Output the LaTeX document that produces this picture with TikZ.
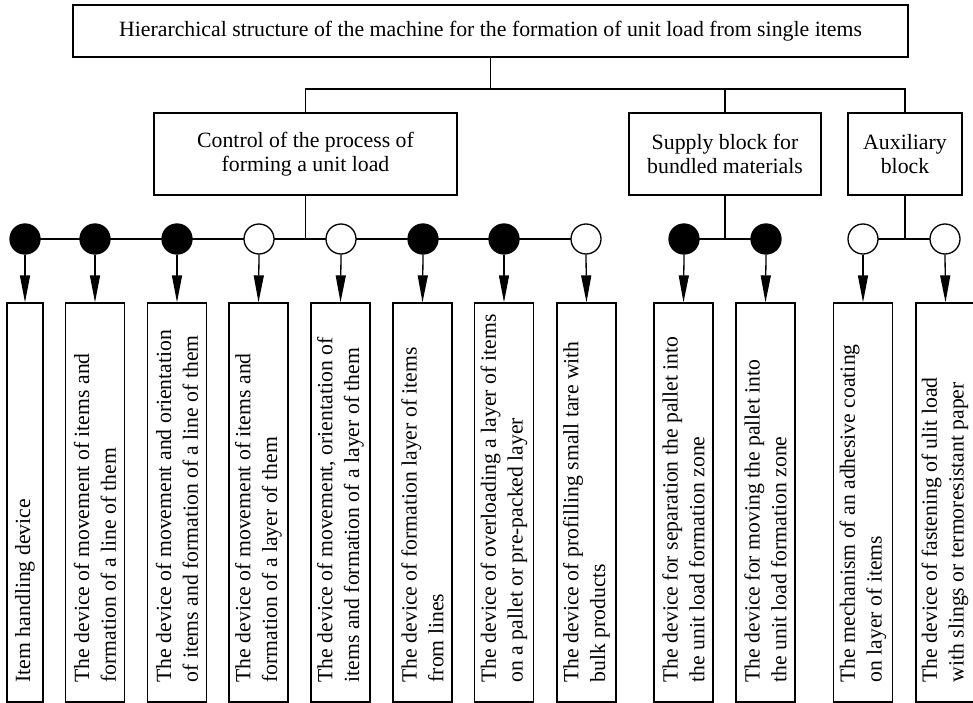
\documentclass[tikz,border=0pt]{standalone}
\usepackage{fontspec}
\setmainfont{Liberation Serif}
\usetikzlibrary{arrows.meta}
\begin{document}
\begin{tikzpicture}[x=1pt,y=-1pt,
  line width=1.3pt,
  topbox/.style={draw,rectangle,inner sep=0pt,align=center,font=\fontsize{21.8}{23.5}\selectfont},
  leafbox/.style={draw,rectangle,inner sep=0pt,minimum width=59pt,minimum height=399pt},
  leaftext/.style={rotate=90,anchor=west,inner sep=0pt,align=left,font=\fontsize{21.7}{26.7}\selectfont},
  dotb/.style={circle,draw,fill=black,minimum size=30pt,inner sep=0pt},
  dotw/.style={circle,draw,fill=white,minimum size=30pt,inner sep=0pt},
  arr/.style={-{Triangle[length=27pt,width=10pt]}}
]
\useasboundingbox (0,0) rectangle (973,703);
% top level
\node[topbox,minimum width=835pt,minimum height=52pt] (top) at (490.5,31)
  {Hierarchical structure of the machine for the formation of unit load from single items};
\node[topbox,minimum width=303pt,minimum height=82pt] (ctrl) at (305.5,154)
  {Control of the process of\\forming a unit load};
\node[topbox,minimum width=192pt,minimum height=82pt] (sup) at (725,154)
  {Supply block for\\bundled materials};
\node[topbox,minimum width=114pt,minimum height=82pt] (aux) at (905,154)
  {Auxiliary\\block};
\coordinate (bus) at (490.5,89);
\draw (top.south) -- (bus);
\draw (ctrl.north) |- (bus) -| (aux.north);
\draw (sup.north) -- (sup.north |- bus);

% circle rows
\coordinate (r) at (0,239);
\draw (25,239) coordinate (a1) -- (586,239) coordinate (a8);
\draw (ctrl.south) -- (ctrl.south |- r);
\draw (684,239) coordinate (s1) -- (766,239) coordinate (s2);
\draw (sup.south) -- (sup.south |- r);
\draw (863,239) coordinate (x1) -- (945,239) coordinate (x2);
\draw (aux.south) -- (aux.south |- r);

\node[dotb] (c1) at (25,239) {};
\node[dotb] (c2) at (95,239) {};
\node[dotb] (c3) at (177,239) {};
\node[dotw] (c4) at (259,239) {};
\node[dotw] (c5) at (341,239) {};
\node[dotb] (c6) at (423,239) {};
\node[dotb] (c7) at (504,239) {};
\node[dotw] (c8) at (586,239) {};
\node[dotb] (c9) at (684,239) {};
\node[dotb] (c10) at (766,239) {};
\node[dotw] (c11) at (863,239) {};
\node[dotw] (c12) at (945,239) {};

% leaf boxes
\node[leafbox,minimum width=36pt] (b1) at (25,502.5) {};
\node[leafbox] (b2) at (95,502.5) {};
\node[leafbox] (b3) at (177,502.5) {};
\node[leafbox] (b4) at (258.5,502.5) {};
\node[leafbox] (b5) at (340.5,502.5) {};
\node[leafbox] (b6) at (422.5,502.5) {};
\node[leafbox] (b7) at (504,502.5) {};
\node[leafbox] (b8) at (586.5,502.5) {};
\node[leafbox] (b9) at (683.5,502.5) {};
\node[leafbox] (b10) at (765.5,502.5) {};
\node[leafbox] (b11) at (863,502.5) {};
\node[leafbox] (b12) at (945.5,502.5) {};

\foreach \i in {1,...,12} { \draw[arr] (c\i.south) -- (b\i.north); }

\node[leaftext] (t1) at (25,683) {Item handling device};
\node[leaftext] (t2) at (95,683) {The device of movement of items and\\formation of a line of them};
\node[leaftext] (t3) at (177,683) {The device of movement and orientation\\of items and formation of a line of them};
\node[leaftext] (t4) at (258.5,683) {The device of movement of items and\\formation of a layer of them};
\node[leaftext] (t5) at (340.5,683) {The device of movement, orientation of\\items and formation of a layer of them};
\node[leaftext] (t6) at (422.5,683) {The device of formation layer of items\\from lines};
\node[leaftext] (t7) at (504,683) {The device of overloading a layer of items\\on a pallet or pre-packed layer};
\node[leaftext] (t8) at (586.5,683) {The device of profilling small tare with\\bulk products};
\node[leaftext] (t9) at (683.5,683) {The device for separation the pallet into\\the unit load formation zone};
\node[leaftext] (t10) at (765.5,683) {The device for moving the pallet into\\the unit load formation zone};
\node[leaftext] (t11) at (863,683) {The mechanism of an adhesive coating\\on layer of items};
\node[leaftext] (t12) at (945,683) {The device of fastening of ulit load\\with slings or termoresistant paper};
\end{tikzpicture}
\end{document}
